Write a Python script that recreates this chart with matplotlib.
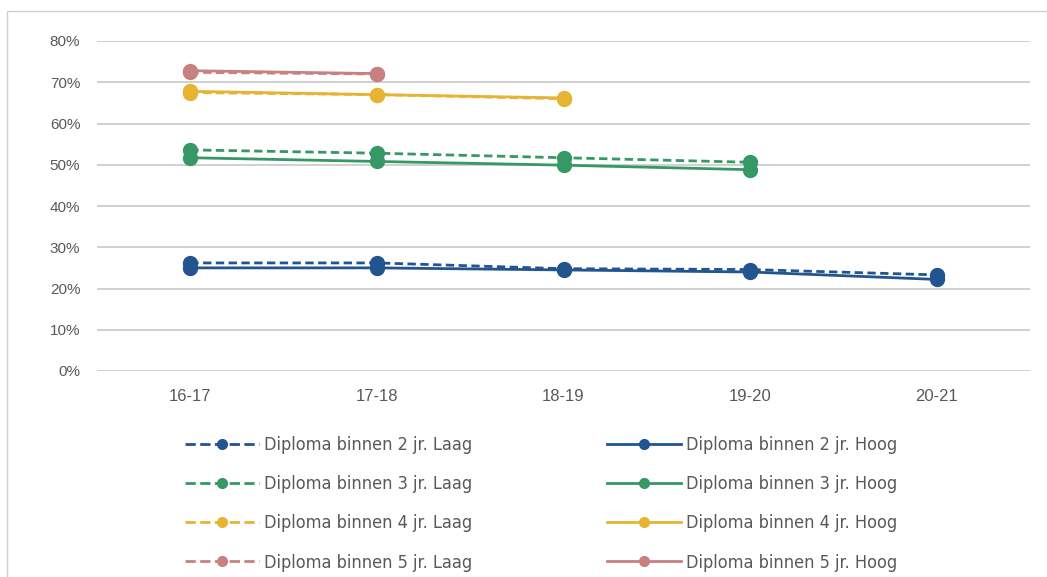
import matplotlib
matplotlib.use("Agg")
import matplotlib.pyplot as plt
from matplotlib.font_manager import FontProperties
from matplotlib.lines import Line2D
from matplotlib.patches import Rectangle
from matplotlib.ticker import PercentFormatter

years = ["16-17", "17-18", "18-19", "19-20", "20-21"]

laag_2 = [26.2, 26.2, 24.8, 24.6, 23.3]
hoog_2 = [25.0, 25.0, 24.5, 24.0, 22.2]
laag_3 = [53.6, 52.8, 51.7, 50.6]
hoog_3 = [51.7, 50.8, 49.9, 48.8]
laag_4 = [67.5, 67.0, 66.0]
hoog_4 = [67.8, 67.0, 66.2]
laag_5 = [72.4, 72.0]
hoog_5 = [72.8, 72.1]

series = [
    ("Diploma binnen 2 jr. Laag", laag_2, "#22558f", "--"),
    ("Diploma binnen 3 jr. Laag", laag_3, "#359865", "--"),
    ("Diploma binnen 4 jr. Laag", laag_4, "#e6b432", "--"),
    ("Diploma binnen 5 jr. Laag", laag_5, "#c98080", "--"),
    ("Diploma binnen 2 jr. Hoog", hoog_2, "#22558f", "-"),
    ("Diploma binnen 3 jr. Hoog", hoog_3, "#359865", "-"),
    ("Diploma binnen 4 jr. Hoog", hoog_4, "#e6b432", "-"),
    ("Diploma binnen 5 jr. Hoog", hoog_5, "#c98080", "-"),
]

plt.rcParams["font.family"] = ["Liberation Sans", "DejaVu Sans"]
text_col = "#595959"
legend_font = FontProperties(family="DejaVu Sans", stretch="condensed", size=13)

fig = plt.figure(figsize=(10.47, 5.77), dpi=100)
ax = fig.add_axes([97 / 1047, 1 - 371 / 577, (1030 - 97) / 1047, 330 / 577])

# light frame around the chart area
fig.patches.append(Rectangle((7 / 1047, -0.01), 1.0, 1 - 11 / 577 + 0.01,
                             transform=fig.transFigure, fill=False,
                             edgecolor="#d0d0d0", lw=1.0))

handles = []
for label, vals, col, ls in series:
    x = list(range(len(vals)))
    ax.plot(x, vals, ls, color=col, lw=2.0, marker="o", ms=10, zorder=3,
            dashes=(3, 1.6) if ls == "--" else (None, None))
    handles.append(Line2D([], [], color=col, lw=2.0, marker="o", ms=7,
                          linestyle=ls, label=label))

ax.set_xlim(-0.5, 4.5)
ax.set_ylim(0, 80)
ax.set_xticks(range(len(years)))
ax.set_xticklabels(years)
ax.set_yticks(range(0, 81, 10))
ax.yaxis.set_major_formatter(PercentFormatter(decimals=0))
ax.grid(axis="y", color="#c8c8c8", lw=1.2)
ax.set_axisbelow(True)
for side in ["top", "right", "left", "bottom"]:
    ax.spines[side].set_visible(False)
ax.tick_params(length=0, labelsize=11, colors=text_col, pad=12)
ax.tick_params(axis="x", labelsize=12, pad=13)

fig.legend(handles=handles, ncol=2, loc="upper center",
           bbox_to_anchor=(541 / 1047, 1 - 420 / 577), frameon=False,
           prop=legend_font, handlelength=4.1, columnspacing=7.45,
           labelspacing=1.17, handletextpad=0.3, labelcolor=text_col)

fig.savefig("out.png", dpi=100)
